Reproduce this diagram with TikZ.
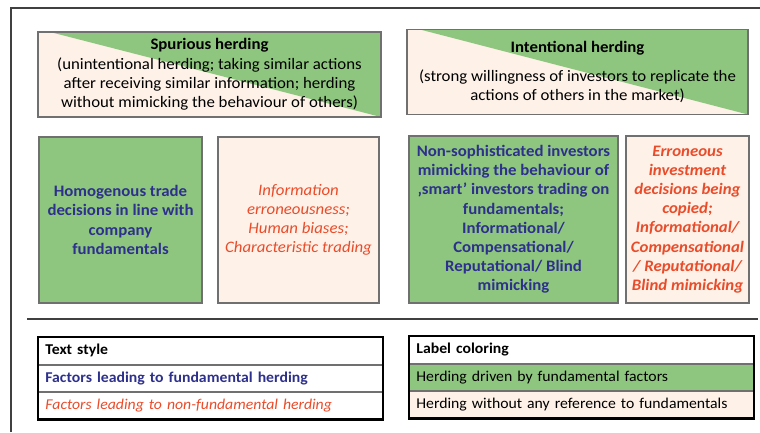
\documentclass[tikz,border=0pt]{standalone}
\usepackage{fontspec}
\setmainfont{Carlito}[FakeStretch=1.05]
\usetikzlibrary{positioning}

\definecolor{herdgreen}{RGB}{143,198,127}
\definecolor{herdpink}{RGB}{253,241,232}
\definecolor{fundblue}{RGB}{45,48,140}
\definecolor{nonfundred}{RGB}{234,76,42}
\definecolor{boxgray}{RGB}{112,112,112}

\tikzset{
  cellbox/.style={draw=boxgray, line width=1.2pt, align=center, inner sep=2pt,
    font=\fontsize{16}{19.2}\selectfont},
  fundcell/.style={cellbox, fill=herdgreen, text=fundblue,
    font=\fontsize{16}{19.2}\selectfont\bfseries},
  nonfundcell/.style={cellbox, fill=herdpink, text=nonfundred,
    font=\fontsize{16}{19.2}\selectfont\itshape},
  headbox/.style={cellbox, fill=herdpink, minimum height=85pt,
    path picture={\fill[herdgreen] ([xshift=#1]path picture bounding box.north west)
      -- (path picture bounding box.north east) -- (path picture bounding box.south east) -- cycle;}},
  legrow/.style={draw=boxgray, line width=0.8pt, minimum height=26.7pt, text width=330pt,
    inner xsep=7pt, inner ysep=0pt, align=left, font=\fontsize{15}{18}\selectfont},
}

\begin{document}
\begin{tikzpicture}[x=1pt, y=-1pt]
  \useasboundingbox (0,0) rectangle (760,432);
  % frame
  \draw[line width=1.5pt, black!75] (11,432) -- (11,8) -- (760,8);
  \draw[line width=1.2pt, black!75] (27,319) -- (758,319);

  % headers
  \node[headbox=12pt, minimum width=343pt] (spur) at (209.5,74.5)
    {\textbf{Spurious herding}\\(unintentional herding; taking similar actions\\
     after receiving similar information; herding\\without mimicking the behaviour of others)};
  \node[headbox=13pt, minimum width=341pt] (intent) at (577.5,72)
    {\textbf{Intentional herding}\\[9pt](strong willingness of investors to replicate the\\
     actions of others in the market)};

  % factor boxes
  \node[fundcell, minimum width=163pt, minimum height=166pt] (spurfund) at (120.5,220)
    {Homogenous trade\\decisions in line with\\company\\fundamentals};
  \node[nonfundcell, minimum width=161pt, minimum height=166pt] (spurnonfund) at (298.5,220)
    {Information\\erroneousness;\\Human biases;\\Characteristic trading};
  \node[fundcell, minimum width=209pt, minimum height=167pt] (intentfund) at (513.5,219.5)
    {Non-sophisticated investors\\mimicking the behaviour of\\‚smart’ investors trading on\\
     fundamentals;\\Informational/\\Compensational/\\Reputational/ Blind\\mimicking};
  \node[nonfundcell, font=\fontsize{16}{19.2}\selectfont\bfseries\itshape,
    minimum width=123pt, minimum height=167pt] (intentnonfund) at (687.5,219.5)
    {Erroneous\\investment\\decisions being\\copied;\\Informational/\\Compensational\\
     / Reputational/\\Blind mimicking};

  % legends
  \node[legrow, anchor=north west] (styletitle) at (38,337) {\textbf{Text style}};
  \node[legrow, below=0pt of styletitle, text=fundblue] (stylefund)
    {\textbf{Factors leading to fundamental herding}};
  \node[legrow, below=0pt of stylefund, text=nonfundred] (stylenonfund)
    {\textit{Factors leading to non-fundamental herding}};
  \draw[line width=2.2pt] (styletitle.north west) rectangle (stylenonfund.south east);

  \node[legrow, anchor=north west] (colortitle) at (409,336) {\textbf{Label coloring}};
  \node[legrow, below=0pt of colortitle, fill=herdgreen] (colorfund)
    {Herding driven by fundamental factors};
  \node[legrow, below=0pt of colorfund, fill=herdpink] (colornonfund)
    {Herding without any reference to fundamentals};
  \draw[line width=2.2pt] (colortitle.north west) rectangle (colornonfund.south east);
\end{tikzpicture}
\end{document}
